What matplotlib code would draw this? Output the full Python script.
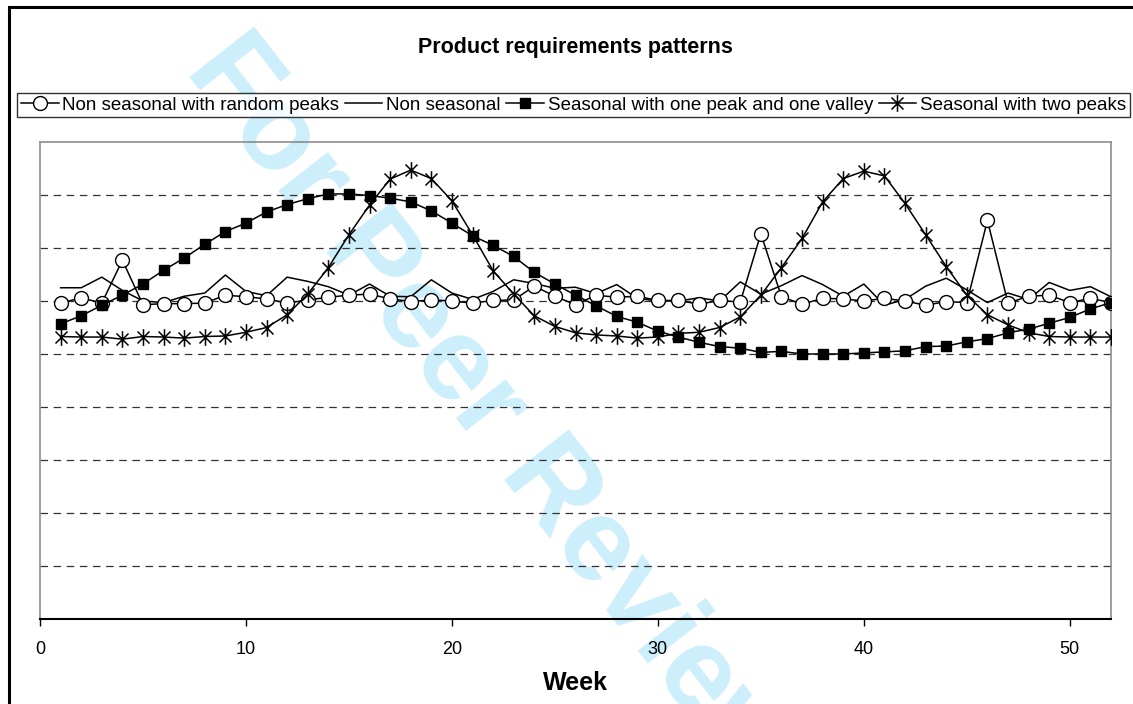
import numpy as np
import matplotlib
matplotlib.use("Agg")
import matplotlib.pyplot as plt
from matplotlib.path import Path
from matplotlib.patches import Rectangle

plt.rcParams['font.family'] = ['Liberation Sans', 'DejaVu Sans']

weeks = list(range(1, 53))

random_peaks = [5.96, 6.06, 5.96, 6.77, 5.93, 5.95, 5.95, 5.96, 6.11, 6.08,
                6.04, 5.96, 6.02, 6.07, 6.11, 6.13, 6.04, 5.99, 6.02, 6.00,
                5.96, 6.01, 6.02, 6.28, 6.09, 5.93, 6.11, 6.07, 6.09, 6.01,
                6.01, 5.94, 6.01, 5.98, 7.27, 6.08, 5.94, 6.05, 6.04, 6.00,
                6.05, 6.00, 5.92, 5.99, 5.97, 7.52, 5.96, 6.09, 6.11, 5.97,
                6.05, 5.97]

non_seasonal = [6.25, 6.25, 6.45, 6.20, 6.00, 5.97, 6.09, 6.15, 6.49, 6.18,
                6.10, 6.45, 6.37, 6.27, 6.11, 6.32, 6.09, 6.08, 6.40, 6.15,
                6.03, 6.18, 6.40, 6.33, 6.24, 6.26, 6.14, 6.31, 6.05, 6.00,
                6.00, 6.06, 6.00, 6.36, 6.13, 6.29, 6.48, 6.31, 6.09, 6.32,
                5.92, 6.03, 6.28, 6.43, 6.21, 5.97, 6.15, 6.03, 6.35, 6.20,
                6.27, 6.08]

one_peak_valley = [5.57, 5.72, 5.92, 6.11, 6.32, 6.58, 6.81, 7.07, 7.31, 7.47,
                   7.68, 7.82, 7.93, 8.02, 8.02, 7.99, 7.94, 7.87, 7.70, 7.47,
                   7.23, 7.05, 6.84, 6.54, 6.32, 6.11, 5.91, 5.71, 5.60, 5.43,
                   5.32, 5.22, 5.14, 5.11, 5.03, 5.05, 5.00, 5.00, 5.00, 5.02,
                   5.04, 5.06, 5.14, 5.15, 5.23, 5.29, 5.40, 5.47, 5.58, 5.69,
                   5.85, 5.97]

two_peaks = [5.33, 5.32, 5.32, 5.28, 5.33, 5.32, 5.30, 5.33, 5.34, 5.41,
             5.50, 5.74, 6.13, 6.63, 7.25, 7.81, 8.30, 8.47, 8.31, 7.89,
             7.25, 6.57, 6.13, 5.72, 5.52, 5.40, 5.36, 5.34, 5.30, 5.32,
             5.39, 5.41, 5.50, 5.70, 6.11, 6.63, 7.18, 7.87, 8.31, 8.45,
             8.36, 7.84, 7.25, 6.65, 6.11, 5.74, 5.55, 5.40, 5.33, 5.32,
             5.32, 5.32]

labels = ["Non seasonal with random peaks", "Non seasonal",
          "Seasonal with one peak and one valley", "Seasonal with two peaks"]
title = "Product requirements patterns"
xlabel = "Week"
xticks = [0, 10, 20, 30, 40, 50]

W, H = 1133, 704
fig = plt.figure(figsize=(W / 100, H / 100), dpi=100)
fig.patch.set_facecolor('white')

ax = fig.add_axes([40 / W, 1 - 619 / H, 1071 / W, 477 / H])
ax.set_facecolor('none')

star = Path([(0, -1), (0, 1), (-0.72, -0.72), (0.72, 0.72), (-0.72, 0.72), (0.72, -0.72)],
            [Path.MOVETO, Path.LINETO, Path.MOVETO, Path.LINETO, Path.MOVETO, Path.LINETO])

lw = 1.1
l1, = ax.plot(weeks, random_peaks, color='black', lw=lw, marker='o', ms=10,
              mfc='white', mec='black', mew=1.0, zorder=4)
l2, = ax.plot(weeks, non_seasonal, color='black', lw=lw, zorder=3)
l3, = ax.plot(weeks, one_peak_valley, color='black', lw=lw, marker='s', ms=6.5,
              mfc='black', mec='black', zorder=5)
l4, = ax.plot(weeks, two_peaks, color='black', lw=lw, marker=star, ms=12,
              mfc='none', mec='black', mew=1.1, zorder=5)

ax.set_xlim(0, 52)
ax.set_ylim(0, 9)
for yv in range(1, 9):
    ax.axhline(yv, color='#333333', lw=0.9, dashes=(6, 4.5), zorder=1)

ax.set_yticks([])
ax.set_xticks(xticks)
ax.tick_params(axis='x', direction='out', length=5, width=1, labelsize=13, pad=11)
for s in ['left', 'top', 'right']:
    ax.spines[s].set_color('#8c8c8c')
    ax.spines[s].set_linewidth(1.2)
ax.spines['bottom'].set_color('black')
ax.spines['bottom'].set_linewidth(1.5)
ax.set_xlabel(xlabel, fontsize=18, fontweight='bold', labelpad=9)

fig.text(575 / W, 1 - 47 / H, title, ha='center', va='center',
         fontsize=15.5, fontweight='bold')

leg = fig.legend([l1, l2, l3, l4], labels, loc='center',
                 bbox_to_anchor=(573.5 / W, 1 - 105 / H), ncol=4, fontsize=13.5,
                 handlelength=2.0, handletextpad=0.2, columnspacing=0.3,
                 borderpad=0.2, borderaxespad=0, frameon=True, fancybox=False)
leg.get_frame().set_edgecolor('black')
leg.get_frame().set_linewidth(1.0)

# watermark
fig.text(208 / W, 1 - 52 / H, "For Peer Review", rotation=-52,
         rotation_mode='anchor', ha='left', va='center', fontsize=85,
         fontweight='bold', color='#cdeefb', zorder=-1)

# outer frame (left and top edges visible)
fig.add_artist(Rectangle((9 / W, -0.1), 1.2, 1.1 - 7 / H, fill=False,
                         edgecolor='black', lw=2.2, transform=fig.transFigure,
                         clip_on=False))

fig.savefig('out.png', dpi=100)
